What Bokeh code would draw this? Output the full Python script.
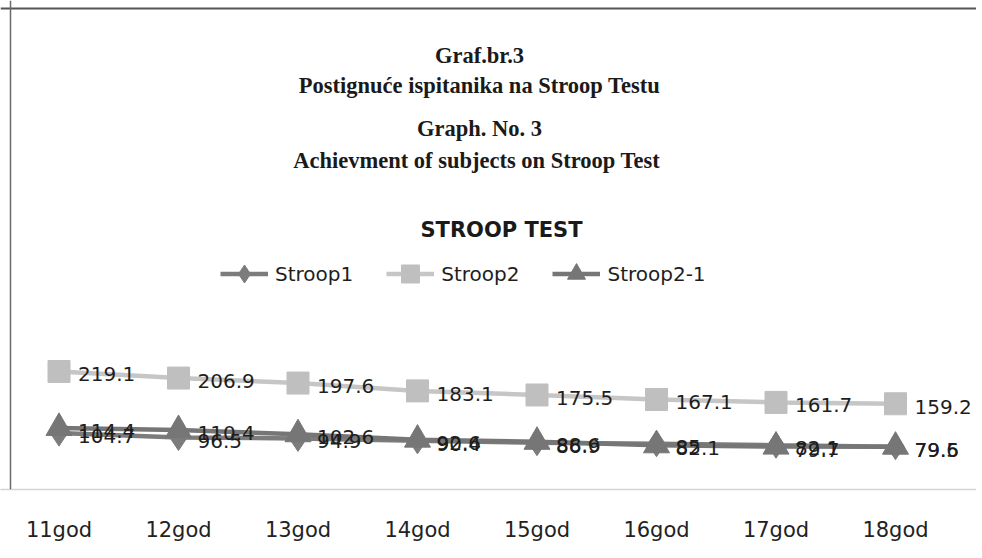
from bokeh.plotting import figure
from bokeh.models import (ColumnDataSource, Range1d, FixedTicker, Label,
                          Legend, LegendItem, Span)
from bokeh.core.properties import value
from bokeh.embed import file_html
from bokeh.resources import INLINE

# ---- data ----
categories = ["11god", "12god", "13god", "14god", "15god", "16god", "17god", "18god"]
stroop1 = [104.7, 96.5, 94.9, 90.4, 86.9, 85.0, 82.1, 79.6]
stroop2 = [219.1, 206.9, 197.6, 183.1, 175.5, 167.1, 161.7, 159.2]
stroop2_1 = [114.4, 110.4, 102.6, 92.6, 88.6, 82.1, 79.7, 79.5]
series_names = ["Stroop1", "Stroop2", "Stroop2-1"]

title_lines = ["Graf.br.3", "Postignuće ispitanika na Stroop Testu",
               "Graph. No. 3", "Achievment of subjects on  Stroop Test"]
chart_title = "STROOP TEST"

# ---- geometry ----
W, H = 976, 550
AXIS_Y = 489             # px of the category axis line
BOTTOM = H - AXIS_Y
FH = AXIS_Y              # frame height in px
PX_CAT = 119.5           # px per category
FIRST = 58.5             # px of first category centre
PX_UNIT = 0.5386         # px per value unit

x0 = -FIRST / PX_CAT
x1 = (W - FIRST) / PX_CAT
ytop = FH / PX_UNIT


def dx(px):
    return x0 + px / PX_CAT


def dy(py):
    return (FH - py) / PX_UNIT


SANS = "DejaVu Sans"
SERIF = "Liberation Serif"

p = figure(width=W, height=H, output_backend="svg", toolbar_location=None,
           x_range=Range1d(x0, x1), y_range=Range1d(0, ytop),
           y_axis_location=None, min_border_left=0, min_border_right=0,
           min_border_top=0, min_border_bottom=BOTTOM)
p.outline_line_color = None
p.xgrid.grid_line_color = None
p.ygrid.grid_line_color = None
p.background_fill_color = "white"
p.border_fill_color = "white"

xs = list(range(len(categories)))
p.xaxis.ticker = FixedTicker(ticks=xs)
p.xaxis.major_label_overrides = {i: c for i, c in enumerate(categories)}
p.xaxis.major_tick_line_color = None
p.xaxis.minor_tick_line_color = None
p.xaxis.axis_line_color = "#d4d4d4"
p.xaxis.axis_line_width = 1.5
p.xaxis.major_label_standoff = 22
p.xaxis.major_label_text_font = SANS
p.xaxis.major_label_text_font_size = "21px"
p.xaxis.major_label_text_color = "#222222"


def fmt(v):
    return f"{v:g}"


dark1 = "#7c7c7c"
dark2 = "#767676"
light = "#bfbfbf"

src1 = ColumnDataSource(dict(x=xs, y=stroop1, t=[fmt(v) for v in stroop1]))
src2 = ColumnDataSource(dict(x=xs, y=stroop2, t=[fmt(v) for v in stroop2]))
src3 = ColumnDataSource(dict(x=xs, y=stroop2_1, t=[fmt(v) for v in stroop2_1]))

l1 = p.line("x", "y", source=src1, line_color=dark1, line_width=4.5)
l2 = p.line("x", "y", source=src2, line_color="#c6c6c6", line_width=4.5)
l3 = p.line("x", "y", source=src3, line_color=dark2, line_width=4.5)
m1 = p.scatter("x", "y", source=src1, marker="diamond", size=26,
               fill_color=dark1, line_color=dark1)
m2 = p.scatter("x", "y", source=src2, marker="square", size=22,
               fill_color=light, line_color=light)
m3 = p.scatter("x", "y", source=src3, marker="triangle", size=26,
               fill_color=dark2, line_color=dark2)

for s in (src1, src2, src3):
    p.text("x", "y", text="t", source=s, x_offset=19, y_offset=3,
           text_align="left", text_baseline="middle",
           text_font=value(SANS), text_font_size="20px", text_color="#1e1e1e")

# frame lines of the original picture
p.add_layout(Span(location=dy(8), dimension="width", line_color="#555555", line_width=2))
p.add_layout(Span(location=dx(10), dimension="height", line_color="#6a6a6a", line_width=1.5))

# titles
baselines = [55, 85, 128, 160]
for txt, b in zip(title_lines, baselines):
    p.add_layout(Label(x=dx(479), y=dy(b), text=txt, text_align="center",
                       text_baseline="alphabetic", text_font=SERIF,
                       text_font_style="bold", text_font_size="22.5px",
                       text_color="#1a1a1a"))
p.add_layout(Label(x=dx(501), y=dy(229), text=chart_title, text_align="center",
                   text_baseline="alphabetic", text_font=SANS,
                   text_font_style="bold", text_font_size="21px",
                   text_color="#1a1a1a"))

legend = Legend(items=[LegendItem(label=series_names[0], renderers=[l1, m1]),
                       LegendItem(label=series_names[1], renderers=[l2, m2]),
                       LegendItem(label=series_names[2], renderers=[l3, m3])],
                orientation="horizontal", location=(220, 193),
                glyph_width=48, glyph_height=45, label_standoff=7, spacing=33,
                padding=0, margin=0, border_line_color=None,
                background_fill_alpha=0, label_text_font=SANS,
                label_text_font_size="20px", label_text_color="#1e1e1e")
p.add_layout(legend)

open("out.html", "w").write(file_html(p, INLINE))
